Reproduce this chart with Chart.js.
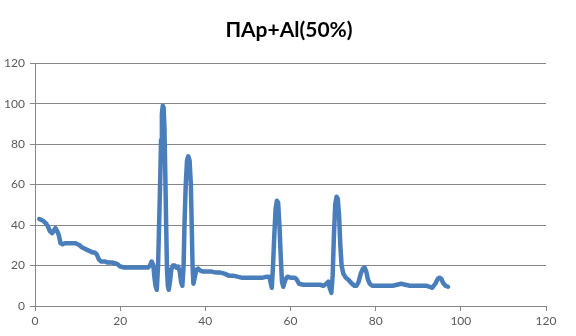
<!DOCTYPE html>
<html>
<head>
<meta charset="utf-8">
<script src="https://cdn.jsdelivr.net/npm/chart.js@4"></script>
<style>
  html, body { margin: 0; padding: 0; background: #fff; }
  #wrap { width: 576px; height: 336px; }
</style>
</head>
<body>
<div id="wrap"><canvas id="chart" width="576" height="336"></canvas></div>
<script>
// ================= Data =================
const chartTitle = 'ПАр+Al(50%)';
const xTicks = [0, 20, 40, 60, 80, 100, 120];
const yTicks = [0, 20, 40, 60, 80, 100, 120];

const xValues = [
  1.0, 1.5, 2.0, 2.5, 3.0, 3.5, 4.0, 4.5, 4.8, 5.2, 5.6, 6.0, 6.5, 7.0, 8.0, 9.0, 9.5, 10.0, 10.5, 11.0,
  12.0, 12.5, 13.0, 13.5, 14.0, 14.5, 15.0, 15.5, 16.0, 16.5, 17.0, 18.0, 19.0, 19.5, 20.0, 21.0, 22, 23, 24, 25,
  26, 26.5, 27.0, 27.4, 27.8, 28.0, 28.3, 28.6, 28.9, 29.2, 29.4, 29.6, 29.8, 30.0, 30.2, 30.4, 30.6, 30.8, 31.0, 31.2,
  31.4, 31.7, 32.0, 32.4, 32.8, 33.2, 33.6, 34.0, 34.3, 34.6, 34.9, 35.1, 35.4, 35.7, 36.0, 36.3, 36.6, 36.8, 37.0, 37.2,
  37.5, 37.9, 38.3, 38.8, 39.5, 40.5, 41.5, 42.5, 43.5, 44.5, 45.5, 46.5, 47.5, 48.5, 49.5, 50.5, 51.5, 52.5, 53.5, 54.5,
  55.0, 55.3, 55.6, 55.9, 56.2, 56.5, 56.8, 57.1, 57.4, 57.7, 58.0, 58.3, 58.8, 59.3, 60.0, 61.0, 61.5, 62.0, 63, 64,
  65, 66, 67, 67.7, 68.4, 68.9, 69.2, 69.6, 69.9, 70.2, 70.5, 70.8, 71.1, 71.4, 71.7, 72.0, 72.4, 73.0, 73.6, 74.2,
  75.0, 75.5, 76.0, 76.5, 77.0, 77.4, 77.8, 78.2, 78.6, 79.2, 80, 81, 82, 83, 84, 85, 86, 87, 88, 89,
  90, 91, 92, 92.7, 93.3, 94.0, 94.6, 95.0, 95.4, 95.8, 96.4, 97.0
];
const yValues = [
  43, 42.5, 42, 41, 39.5, 37, 36, 37.5, 38.5, 37, 35, 31, 30.5, 31, 31, 31, 31, 30.5, 30, 29,
  28, 27.5, 27, 26.5, 26.5, 25.5, 23, 22, 22, 22, 21.5, 21.5, 21, 20.5, 19.5, 19, 19, 19, 19, 19,
  19, 19, 20, 22, 20, 15, 10, 8, 20, 45, 62, 82, 95, 99, 98, 88, 65, 40, 18, 10,
  8, 12, 18, 20, 20, 19, 19.5, 17, 12, 10, 20, 40, 60, 72, 74, 72, 60, 40, 20, 11,
  14, 18, 18.5, 17.5, 17, 17, 17, 16.5, 16.5, 16, 15, 15, 14.5, 14, 14, 14, 14, 14, 14, 14.5,
  14.5, 12, 9, 20, 35, 48, 52, 51, 40, 25, 12, 9.5, 13, 14.5, 14, 14, 13, 11, 10.5, 10.5,
  10.5, 10.5, 10.5, 10, 11, 12, 9, 6.5, 15, 35, 50, 54, 53, 45, 30, 20, 16, 14, 13, 11.5,
  10, 10, 12, 16, 18.5, 19, 17, 13, 11, 10, 10, 10, 10, 10, 10, 10.5, 11, 10.5, 10, 10,
  10, 10, 10, 9.5, 9, 11, 13.5, 14, 13.5, 11.5, 10, 9.5
];

const points = xValues.map((x, i) => ({ x: x, y: yValues[i] }));

// ================= Chart =================
const axisGray = '#868686';
const labelGray = '#595959';

// centre the title on the whole canvas, not on the padded box
const centreTitle = {
  id: 'centreTitle',
  afterLayout(chart) {
    if (chart.titleBlock) {
      chart.titleBlock.left = 0;
      chart.titleBlock.right = chart.width + 2;
    }
  }
};

new Chart(document.getElementById('chart').getContext('2d'), {
  type: 'scatter',
  data: {
    datasets: [{
      label: chartTitle,
      data: points,
      showLine: true,
      borderColor: '#4a7ebb',
      backgroundColor: '#4a7ebb',
      borderWidth: 4.5,
      borderJoinStyle: 'round',
      borderCapStyle: 'round',
      pointRadius: 0,
      tension: 0,
      fill: false
    }]
  },
  plugins: [centreTitle],
  options: {
    responsive: false,
    animation: false,
    layout: { padding: { left: 0, right: 30, top: 0, bottom: 0 } },
    plugins: {
      legend: { display: false },
      tooltip: { enabled: false },
      title: {
        display: true,
        text: chartTitle,
        color: '#000',
        font: { family: 'Lato', size: 21, weight: 'bold', lineHeight: 1.2 },
        padding: { top: 18, bottom: 20 }
      }
    },
    scales: {
      x: {
        type: 'linear',
        min: 0,
        max: 120,
        afterBuildTicks: s => { s.ticks = xTicks.map(v => ({ value: v })); },
        afterFit: s => { s.height = 30; },
        grid: { display: true, drawOnChartArea: false, color: axisGray, tickLength: 5 },
        border: { color: axisGray },
        ticks: { color: labelGray, font: { family: 'Lato', size: 12 }, padding: 3, maxRotation: 0 }
      },
      y: {
        type: 'linear',
        min: 0,
        max: 120,
        afterBuildTicks: s => { s.ticks = yTicks.map(v => ({ value: v })); },
        afterFit: s => { s.width = 35; },
        grid: { color: axisGray, tickLength: 5 },
        border: { color: axisGray },
        ticks: { color: labelGray, font: { family: 'Lato', size: 12 }, padding: 5 }
      }
    }
  }
});
</script>
</body>
</html>
